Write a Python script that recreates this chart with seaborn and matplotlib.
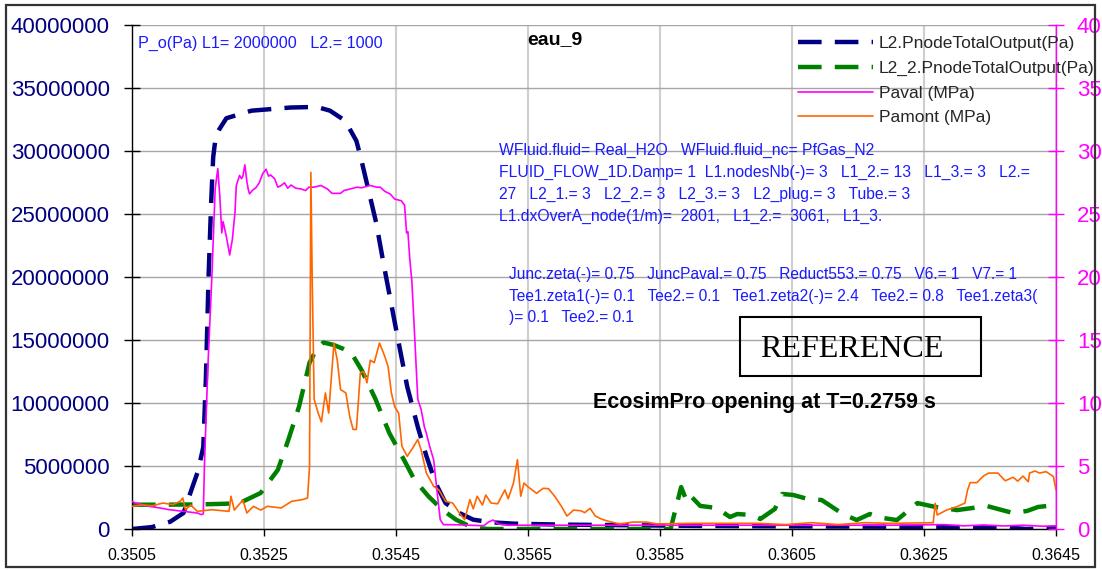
import numpy as np
import pandas as pd
import matplotlib
matplotlib.use("Agg")
import matplotlib.pyplot as plt
import seaborn as sns
from matplotlib.lines import Line2D
from matplotlib.patches import Rectangle

# ---- series: time (s) and pressure ----
# L2.PnodeTotalOutput (Pa)
t_l2 = [0.35050, 0.35080, 0.35108, 0.35128, 0.35140, 0.35150, 0.35158, 0.35162,
        0.35166, 0.35170, 0.35173, 0.35177, 0.35182, 0.35193, 0.35231, 0.35290,
        0.35330, 0.35350, 0.35373, 0.35390, 0.35397, 0.35420, 0.35431, 0.35451,
        0.35467, 0.35483, 0.35496, 0.35510, 0.35525, 0.35546, 0.35567, 0.35594,
        0.35630, 0.35700, 0.35800, 0.35900, 0.36000, 0.36100, 0.36200, 0.36300,
        0.36380, 0.36405, 0.36430, 0.36450]
p_l2 = [0, 150000, 580000, 1270000, 3100000, 4600000, 6500000, 12000000,
        20000000, 26000000, 29500000, 31200000, 31700000, 32600000, 33200000, 33450000,
        33500000, 33200000, 32400000, 30800000, 29400000, 24300000, 21100000, 15600000,
        11300000, 8100000, 5800000, 3650000, 2060000, 1270000, 740000, 530000,
        420000, 350000, 300000, 250000, 220000, 200000, 180000, 150000,
        100000, 0, 50000, 100000]

# L2_2.PnodeTotalOutput (Pa)
t_l22 = [0.35050, 0.35100, 0.35150, 0.35190, 0.35213, 0.35245, 0.35271, 0.35287,
         0.35303, 0.35319, 0.35330, 0.35340, 0.35356, 0.35370, 0.35382, 0.35398,
         0.35419, 0.35440, 0.35462, 0.35478, 0.35499, 0.35520, 0.35541, 0.35567,
         0.35590, 0.35700, 0.35800, 0.35866, 0.35882, 0.35891, 0.35898, 0.35911,
         0.35936, 0.35956, 0.35967, 0.35989, 0.36002, 0.36024, 0.36035, 0.36052,
         0.36074, 0.36095, 0.36127, 0.36148, 0.36168, 0.36188, 0.36209, 0.36240,
         0.36267, 0.36300, 0.36324, 0.36345, 0.36362, 0.36385, 0.36406, 0.36423,
         0.36450]
p_l22 = [1930000, 1930000, 1950000, 2000000, 2060000, 2860000, 4700000, 7100000,
         9700000, 13200000, 14300000, 14800000, 14600000, 14300000, 14000000, 12600000,
         10300000, 7600000, 5500000, 3900000, 2600000, 1530000, 740000, 80000,
         0, 0, 0, 0, 3330000, 2140000, 2540000, 1830000,
         1670000, 950000, 1190000, 1110000, 790000, 1590000, 2780000, 2700000,
         2380000, 2300000, 1190000, 710000, 1190000, 870000, 710000, 2060000,
         1750000, 1500000, 1670000, 1830000, 1590000, 1270000, 1430000, 1750000,
         1900000]

# Paval (MPa)
t_aval = [0.35050, 0.35055, 0.35065, 0.35076, 0.35092, 0.35107, 0.35128, 0.35149,
          0.35155, 0.35158, 0.35160, 0.35165, 0.35171, 0.35176, 0.35180, 0.35183,
          0.35186, 0.35188, 0.35193, 0.35198, 0.35202, 0.35206, 0.35208, 0.35213,
          0.35216, 0.35218, 0.35221, 0.35224, 0.35226, 0.35228, 0.35233, 0.35238,
          0.35243, 0.35248, 0.35253, 0.35257, 0.35260, 0.35266, 0.35271, 0.35276,
          0.35281, 0.35286, 0.35291, 0.35298, 0.35306, 0.35313, 0.35318, 0.35326,
          0.35336, 0.35341, 0.35346, 0.35353, 0.35366, 0.35371, 0.35381, 0.35391,
          0.35398, 0.35406, 0.35411, 0.35421, 0.35426, 0.35433, 0.35441, 0.35448,
          0.35458, 0.35463, 0.35466, 0.35468, 0.35471, 0.35474, 0.35478, 0.35483,
          0.35488, 0.35493, 0.35496, 0.35501, 0.35507, 0.35512, 0.35517, 0.35522,
          0.35540, 0.35583, 0.35590, 0.35597, 0.35605, 0.35620, 0.35700, 0.35800,
          0.35900, 0.36000, 0.36100, 0.36200, 0.36280, 0.36310, 0.36340, 0.36370,
          0.36400, 0.36430, 0.36450]
p_aval = [2.20, 2.06, 1.95, 1.80, 1.67, 1.53, 1.40, 1.27,
          1.14, 1.20, 5.50, 12.90, 20.00, 27.00, 28.60, 26.45,
          23.50, 24.40, 23.20, 21.75, 22.96, 25.10, 27.26, 28.06,
          27.80, 28.00, 28.90, 27.60, 27.00, 26.60, 26.90, 27.10,
          27.50, 28.20, 28.55, 28.00, 28.10, 27.80, 27.13, 27.26,
          27.48, 27.05, 27.30, 27.05, 26.99, 26.86, 27.13, 27.13,
          27.26, 27.13, 26.99, 26.64, 26.64, 26.86, 26.99, 27.13,
          27.08, 27.20, 27.26, 27.13, 27.13, 26.80, 26.59, 26.19,
          26.05, 25.70, 23.50, 23.60, 21.35, 19.70, 15.60, 10.30,
          9.50, 8.10, 7.60, 6.56, 5.50, 3.10, 0.74, 0.34,
          0.34, 0.26, 0.55, 0.71, 0.40, 0.30, 0.30, 0.30,
          0.30, 0.30, 0.30, 0.30, 0.35, 0.25, 0.32, 0.24,
          0.30, 0.22, 0.25]

# Pamont (MPa)
t_amont = [0.35050, 0.35065, 0.35081, 0.35097, 0.35112, 0.35123, 0.35127, 0.35131,
           0.35139, 0.35149, 0.35171, 0.35197, 0.35200, 0.35205, 0.35218, 0.35224,
           0.35234, 0.35245, 0.35255, 0.35276, 0.35292, 0.35308, 0.35316, 0.35319,
           0.35321, 0.35323, 0.35326, 0.35332, 0.35337, 0.35343, 0.35348, 0.35356,
           0.35361, 0.35366, 0.35374, 0.35380, 0.35385, 0.35390, 0.35396, 0.35401,
           0.35406, 0.35411, 0.35417, 0.35425, 0.35433, 0.35438, 0.35443, 0.35448,
           0.35454, 0.35459, 0.35467, 0.35475, 0.35483, 0.35488, 0.35496, 0.35507,
           0.35515, 0.35525, 0.35536, 0.35546, 0.35554, 0.35562, 0.35567, 0.35573,
           0.35581, 0.35586, 0.35594, 0.35604, 0.35615, 0.35620, 0.35628, 0.35634,
           0.35639, 0.35644, 0.35649, 0.35663, 0.35673, 0.35681, 0.35691, 0.35701,
           0.35709, 0.35719, 0.35730, 0.35736, 0.35744, 0.35752, 0.35762, 0.35774,
           0.35789, 0.35809, 0.35830, 0.35845, 0.35900, 0.36000, 0.36040, 0.36080,
           0.36120, 0.36160, 0.36200, 0.36264, 0.36267, 0.36270, 0.36284, 0.36300,
           0.36312, 0.36316, 0.36320, 0.36330, 0.36340, 0.36348, 0.36362, 0.36373,
           0.36385, 0.36392, 0.36400, 0.36408, 0.36410, 0.36418, 0.36425, 0.36435,
           0.36446, 0.36450]
p_amont = [1.80, 1.90, 1.85, 2.06, 1.93, 2.20, 2.46, 1.53,
           1.90, 1.40, 1.53, 1.40, 2.60, 1.50, 2.30, 1.27,
           1.80, 1.50, 1.80, 1.67, 2.20, 2.33, 2.46, 4.97,
           28.30, 20.00, 10.30, 9.20, 8.50, 10.80, 9.20, 14.76,
           13.40, 11.06, 10.80, 8.90, 7.90, 7.90, 12.40, 12.50,
           11.60, 13.40, 13.20, 14.76, 13.70, 12.90, 10.80, 9.70,
           9.20, 6.56, 5.77, 6.40, 7.10, 6.30, 4.44, 3.39,
           3.10, 2.20, 2.06, 1.27, 0.74, 2.33, 1.60, 2.60,
           1.90, 2.70, 2.06, 2.00, 3.10, 2.40, 3.65, 5.50,
           2.60, 3.65, 3.39, 2.83, 3.23, 3.20, 2.56, 1.77,
           1.03, 1.50, 1.45, 1.30, 1.64, 1.03, 0.77, 0.58,
           0.40, 0.55, 0.55, 0.40, 0.45, 0.45, 0.35, 0.50,
           0.35, 0.50, 0.45, 0.50, 2.04, 1.11, 1.50, 1.77,
           2.06, 3.10, 3.68, 3.68, 4.20, 4.44, 4.44, 3.83,
           4.10, 3.80, 4.20, 3.75, 4.44, 4.60, 4.44, 4.55,
           4.16, 3.10]

# ---- axis ticks ----
x_tick_labels = ["0.3505", "0.3525", "0.3545", "0.3565", "0.3585", "0.3605", "0.3625", "0.3645"]
y_left_labels = ["0", "5000000", "10000000", "15000000", "20000000", "25000000",
                 "30000000", "35000000", "40000000"]
y_right_labels = ["0", "5", "10", "15", "20", "25", "30", "35", "40"]

series_names = ["L2.PnodeTotalOutput(Pa)", "L2_2.PnodeTotalOutput(Pa)", "Paval (MPa)", "Pamont (MPa)"]

title = "eau_9"
header = "P_o(Pa) L1= 2000000   L2.= 1000"
block1 = ["WFluid.fluid= Real_H2O   WFluid.fluid_nc= PfGas_N2",
          "FLUID_FLOW_1D.Damp= 1  L1.nodesNb(-)= 3   L1_2.= 13   L1_3.= 3   L2.=",
          "27   L2_1.= 3   L2_2.= 3   L2_3.= 3   L2_plug.= 3   Tube.= 3",
          "L1.dxOverA_node(1/m)=  2801,   L1_2.=  3061,   L1_3."]
block2 = ["Junc.zeta(-)= 0.75   JuncPaval.= 0.75   Reduct553.= 0.75   V6.= 1   V7.= 1",
          "Tee1.zeta1(-)= 0.1   Tee2.= 0.1   Tee1.zeta2(-)= 2.4   Tee2.= 0.8   Tee1.zeta3(",
          ")= 0.1   Tee2.= 0.1"]
stamp = "REFERENCE"
note = "EcosimPro opening at T=0.2759 s"

NAVY = "#000080"
GREEN = "#008000"
MAGENTA = "#FF00FF"
ORANGE = "#FF6600"
BLUE_TXT = "#1a1aff"

sns.set_theme(style="white")
plt.rcParams["font.family"] = ["Liberation Sans", "DejaVu Sans"]
plt.rcParams["lines.scale_dashes"] = False

W, H = 1102, 570
fig = plt.figure(figsize=(W / 100, H / 100), dpi=100)
fig.patch.set_facecolor("white")


def fx(x):
    return x / W


def fy(y):
    return 1 - y / H


L, R, T, B = 132, 1056, 25, 529
ax = fig.add_axes([fx(L), fy(B), (R - L) / W, (B - T) / H])
ax2 = ax.twinx()

DASH = (0, (17, 9.5))

df_l2 = pd.DataFrame({"t": t_l2, "p": p_l2})
df_l22 = pd.DataFrame({"t": t_l22, "p": p_l22})
df_aval = pd.DataFrame({"t": t_aval, "p": p_aval})
df_amont = pd.DataFrame({"t": t_amont, "p": p_amont})

sns.lineplot(data=df_l2, x="t", y="p", ax=ax, color=NAVY, linewidth=3.2,
             estimator=None, sort=False)
ax.lines[-1].set_linestyle(DASH)
ax.lines[-1].set_dash_capstyle("butt")
sns.lineplot(data=df_l22, x="t", y="p", ax=ax, color=GREEN, linewidth=3.2,
             estimator=None, sort=False)
ax.lines[-1].set_linestyle(DASH)
ax.lines[-1].set_dash_capstyle("butt")

sns.lineplot(data=df_aval, x="t", y="p", ax=ax2, color=MAGENTA, linewidth=1.2,
             estimator=None, sort=False)
sns.lineplot(data=df_amont, x="t", y="p", ax=ax2, color=ORANGE, linewidth=1.2,
             estimator=None, sort=False)

x_ticks = [float(s) for s in x_tick_labels]
ax.set_xlim(x_ticks[0], x_ticks[-1])
ax.set_xticks(x_ticks)
ax.set_xticklabels(x_tick_labels)
ax.set_ylim(0, 40e6)
ax.set_yticks([int(s) for s in y_left_labels])
ax.set_yticklabels(y_left_labels)
ax2.set_ylim(0, 40)
ax2.set_yticks([int(s) for s in y_right_labels])
ax2.set_yticklabels(y_right_labels)
for a in (ax, ax2):
    a.set_xlabel("")
    a.set_ylabel("")

ax.set_axisbelow(True)
ax.grid(axis="y", color="#a6a6a6", linewidth=1.0)
ax.grid(axis="x", color="#cfcfcf", linewidth=1.5)
ax2.grid(False)

for s in ("top", "right"):
    ax.spines[s].set_visible(False)
for s in ("left", "bottom"):
    ax.spines[s].set_color("black")
    ax.spines[s].set_linewidth(1.0)
for s in ("top", "left", "bottom"):
    ax2.spines[s].set_visible(False)
ax2.spines["right"].set_color(MAGENTA)
ax2.spines["right"].set_linewidth(1.0)

ax.tick_params(axis="y", direction="inout", length=12, width=1, color="black",
               labelcolor=NAVY, labelsize=16, pad=10, left=True)
ax.tick_params(axis="x", direction="out", length=5, width=1, color="black",
               labelcolor="black", labelsize=11.5, pad=9, bottom=True)
ax2.tick_params(axis="y", direction="inout", length=12, width=1, color=MAGENTA,
                labelcolor=MAGENTA, labelsize=16, pad=9, right=True)

handles = [Line2D([], [], color=NAVY, linewidth=3.2, linestyle=DASH, dash_capstyle="butt"),
           Line2D([], [], color=GREEN, linewidth=3.2, linestyle=DASH, dash_capstyle="butt"),
           Line2D([], [], color=MAGENTA, linewidth=1.2),
           Line2D([], [], color=ORANGE, linewidth=1.2)]
ax2.legend(handles, series_names, loc="upper left", bbox_to_anchor=(fx(798), fy(36)),
           bbox_transform=fig.transFigure, frameon=False, fontsize=12.5,
           handlelength=4.3, handletextpad=0.35, labelspacing=0.55,
           borderpad=0, borderaxespad=0)

fig.text(fx(555), fy(44), title, ha="center", va="baseline", fontsize=14,
         fontweight="bold", color="black")
fig.text(fx(138), fy(48), header, ha="left", va="baseline", fontsize=11.6, color=BLUE_TXT)
for i, line in enumerate(block1):
    fig.text(fx(499), fy(155 + i * 21.8), line, ha="left", va="baseline",
             fontsize=11.3, color=BLUE_TXT)
for i, line in enumerate(block2):
    fig.text(fx(509), fy(279 + i * 21.7), line, ha="left", va="baseline",
             fontsize=11.2, color=BLUE_TXT)

fig.add_artist(Rectangle((fx(740), fy(376)), (981 - 740) / W, (376 - 317) / H,
                         transform=fig.transFigure, fill=False, edgecolor="black",
                         linewidth=1.5))
fig.text(fx(760), fy(357), stamp, ha="left", va="baseline", fontsize=23,
         family="Liberation Serif", color="black")
fig.text(fx(593), fy(408), note, ha="left", va="baseline", fontsize=15.5,
         fontweight="bold", color="black")

# outer chart border
fig.add_artist(Rectangle((fx(6), fy(567)), (1095 - 6) / W, (567 - 5) / H,
                         transform=fig.transFigure, fill=False, edgecolor="#333333",
                         linewidth=1.6))

fig.savefig("out.png", dpi=100, facecolor="white")
